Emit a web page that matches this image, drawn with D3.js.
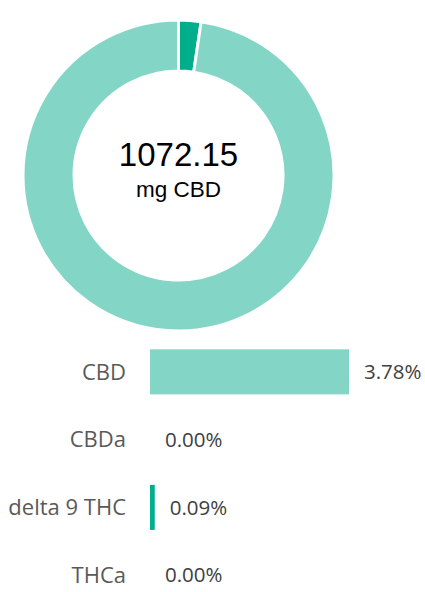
<!DOCTYPE html>
<html>
<head>
    <meta charset="utf-8">
    <title>CBD potency</title>
    <script src="https://d3js.org/d3.v7.min.js"></script>
    <style>
        body { margin: 0; background: #fff; }
        .cat-label { font-family: "Open Sans", sans-serif; font-size: 22px; fill: #595959; }
        .val-label { font-family: "Open Sans", sans-serif; font-size: 20.5px; fill: #404040; }
        .center-text { font-family: "Liberation Sans", Arial, sans-serif; fill: #000; }
    </style>
</head>
<body>
    <div id="chart"></div>
    <script>
        // chart data
        const categories = ["CBD", "CBDa", "delta 9 THC", "THCa"];
        const percents = [3.78, 0.00, 0.09, 0.00];
        const barColors = ["#83d5c5", "#83d5c5", "#00ae8c", "#00ae8c"];
        const totalMg = "1072.15";
        const totalUnit = "mg CBD";

        // donut slices (THC first, then CBD, going clockwise from the top)
        const donutNames = ["delta 9 THC", "CBD"];
        const donutValues = [0.09, 3.78];
        const donutColors = ["#00ae8c", "#83d5c5"];

        const width = 425, height = 592;

        const svg = d3.select("#chart")
            .append("svg")
            .attr("width", width)
            .attr("height", height);

        // donut
        const cx = 178.5, cy = 175.5;
        const pie = d3.pie().sort(null).value(d => d);
        const arc = d3.arc().innerRadius(104.5).outerRadius(155.5);

        const donut = svg.append("g")
            .attr("transform", "translate(" + cx + "," + cy + ")");

        donut.selectAll("path")
            .data(pie(donutValues))
            .enter()
            .append("path")
            .attr("d", arc)
            .attr("fill", (d, i) => donutColors[i])
            .attr("stroke", "#fff")
            .attr("stroke-width", 3);

        donut.append("text")
            .attr("class", "center-text")
            .attr("text-anchor", "middle")
            .attr("y", -10)
            .attr("font-size", 33)
            .text(totalMg);

        donut.append("text")
            .attr("class", "center-text")
            .attr("text-anchor", "middle")
            .attr("y", 21)
            .attr("font-size", 22.5)
            .text(totalUnit);

        // bars
        const x = d3.scaleLinear()
            .domain([0, 3.78])
            .range([150, 349]);

        const y = d3.scaleBand()
            .domain(categories)
            .range([338, 609])
            .paddingInner(0.335)
            .paddingOuter(0.167);

        const rows = svg.append("g")
            .selectAll("g")
            .data(categories)
            .enter()
            .append("g");

        rows.append("rect")
            .attr("x", x(0))
            .attr("y", d => y(d))
            .attr("width", (d, i) => x(percents[i]) - x(0))
            .attr("height", y.bandwidth())
            .attr("fill", (d, i) => barColors[i]);

        rows.append("text")
            .attr("class", "cat-label")
            .attr("x", 126)
            .attr("y", d => y(d) + y.bandwidth() / 2)
            .attr("dy", "0.35em")
            .attr("text-anchor", "end")
            .text(d => d);

        rows.append("text")
            .attr("class", "val-label")
            .attr("x", (d, i) => x(percents[i]) + 15)
            .attr("y", d => y(d) + y.bandwidth() / 2)
            .attr("dy", "0.35em")
            .text((d, i) => percents[i].toFixed(2) + "%");
    </script>
</body>
</html>
